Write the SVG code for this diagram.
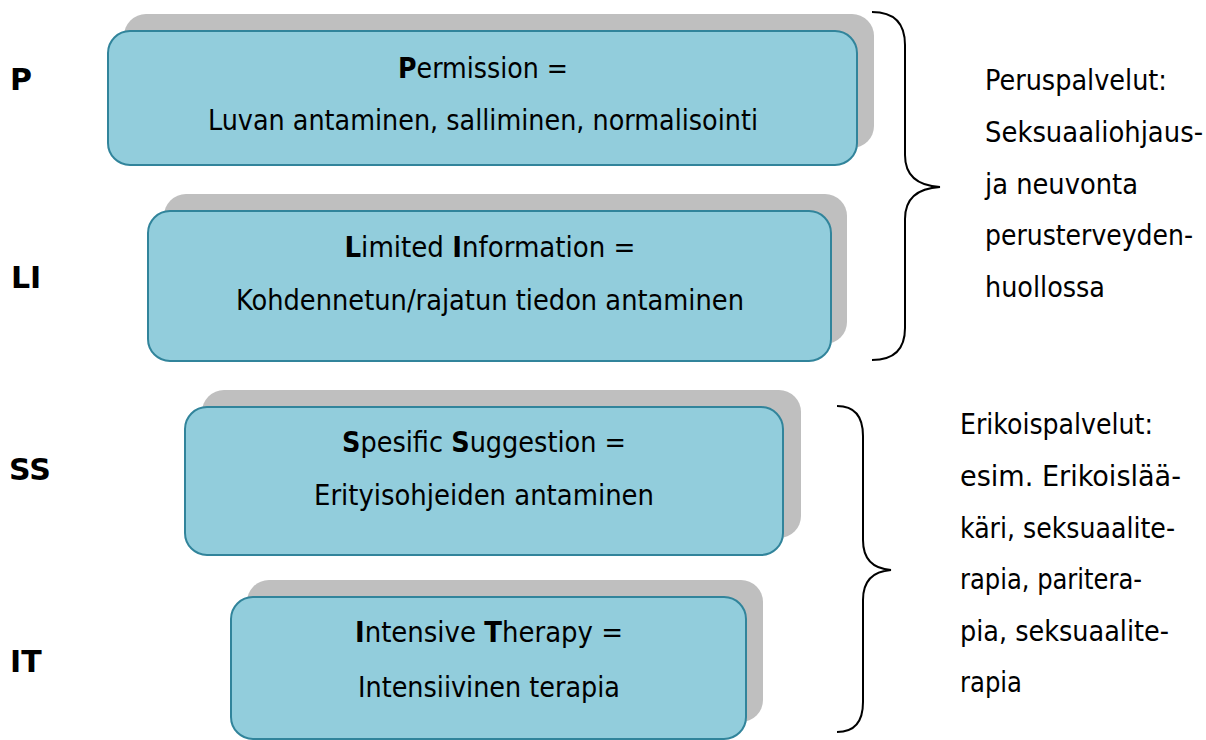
<svg xmlns="http://www.w3.org/2000/svg" width="1206" height="740" viewBox="0 0 1206 740">
<style>
.sh{fill:#BFBFBF}
.bx{fill:#92CDDC;stroke:#31849B;stroke-width:2}
text{font-family:"DejaVu Sans Condensed","DejaVu Sans",sans-serif;font-size:29px;fill:#000}
.c{text-anchor:middle}
.b{font-weight:bold}
.lb{font-family:"DejaVu Sans",sans-serif;font-weight:bold;font-size:30px}
.br{fill:none;stroke:#000;stroke-width:2}
</style>
<rect width="1206" height="740" fill="#fff"/>
<g id="node-p">
<rect class="sh" x="124" y="14" width="750" height="134" rx="22"/>
<rect class="bx" x="108" y="31" width="749" height="134" rx="22"/>
<text class="c" x="483" y="78" textLength="170" lengthAdjust="spacingAndGlyphs"><tspan class="b">P</tspan>ermission =</text>
<text class="c" x="483" y="130" textLength="550" lengthAdjust="spacingAndGlyphs">Luvan antaminen, salliminen, normalisointi</text>
</g>
<g id="node-li">
<rect class="sh" x="164" y="194" width="683" height="150" rx="22"/>
<rect class="bx" x="148" y="211" width="683" height="150" rx="22"/>
<text class="c" x="490" y="257" textLength="291" lengthAdjust="spacingAndGlyphs"><tspan class="b">L</tspan>imited <tspan class="b">I</tspan>nformation =</text>
<text class="c" x="490" y="310" textLength="508" lengthAdjust="spacingAndGlyphs">Kohdennetun/rajatun tiedon antaminen</text>
</g>
<g id="node-ss">
<rect class="sh" x="202" y="390" width="599" height="148" rx="22"/>
<rect class="bx" x="185" y="407" width="598" height="148" rx="22"/>
<text class="c" x="484" y="452" textLength="284" lengthAdjust="spacingAndGlyphs"><tspan class="b">S</tspan>pesific <tspan class="b">S</tspan>uggestion =</text>
<text class="c" x="484" y="505" textLength="340" lengthAdjust="spacingAndGlyphs">Erityisohjeiden antaminen</text>
</g>
<g id="node-it">
<rect class="sh" x="247" y="580" width="516" height="142" rx="22"/>
<rect class="bx" x="231" y="597" width="515" height="142" rx="22"/>
<text class="c" x="489" y="642" textLength="268" lengthAdjust="spacingAndGlyphs"><tspan class="b">I</tspan>ntensive <tspan class="b">T</tspan>herapy =</text>
<text class="c" x="489" y="697" textLength="262" lengthAdjust="spacingAndGlyphs">Intensiivinen terapia</text>
</g>
<g id="labels">
<text class="lb" x="10" y="90">P</text>
<text class="lb" x="11" y="288">LI</text>
<text class="lb" x="9" y="480">SS</text>
<text class="lb" x="10" y="672">IT</text>
</g>
<g id="connectors">
<path class="br" d="M872,12 Q905,12 905,45 L905,155 Q905,185 940,187 Q905,189 905,219 L905,328 Q905,360 872,360"/>
<path class="br" d="M837,406 Q863,406 863,436 L863,540 Q863,568 891,570 Q863,572 863,600 L863,702 Q863,732 837,732"/>
</g>
<g id="text-peruspalvelut">
<text x="985" y="90" textLength="182" lengthAdjust="spacingAndGlyphs">Peruspalvelut:</text>
<text x="985" y="142" textLength="218" lengthAdjust="spacingAndGlyphs">Seksuaaliohjaus-</text>
<text x="985" y="194" textLength="153" lengthAdjust="spacingAndGlyphs">ja neuvonta</text>
<text x="985" y="245" textLength="208" lengthAdjust="spacingAndGlyphs">perusterveyden-</text>
<text x="985" y="297" textLength="120" lengthAdjust="spacingAndGlyphs">huollossa</text>
</g>
<g id="text-erikoispalvelut">
<text x="960" y="434" textLength="193" lengthAdjust="spacingAndGlyphs">Erikoispalvelut:</text>
<text x="960" y="486" textLength="221" lengthAdjust="spacingAndGlyphs">esim. Erikoislää-</text>
<text x="960" y="538" textLength="215" lengthAdjust="spacingAndGlyphs">käri, seksuaalite-</text>
<text x="960" y="589" textLength="182" lengthAdjust="spacingAndGlyphs">rapia, paritera-</text>
<text x="960" y="641" textLength="209" lengthAdjust="spacingAndGlyphs">pia, seksuaalite-</text>
<text x="960" y="692" textLength="62" lengthAdjust="spacingAndGlyphs">rapia</text>
</g>
</svg>
